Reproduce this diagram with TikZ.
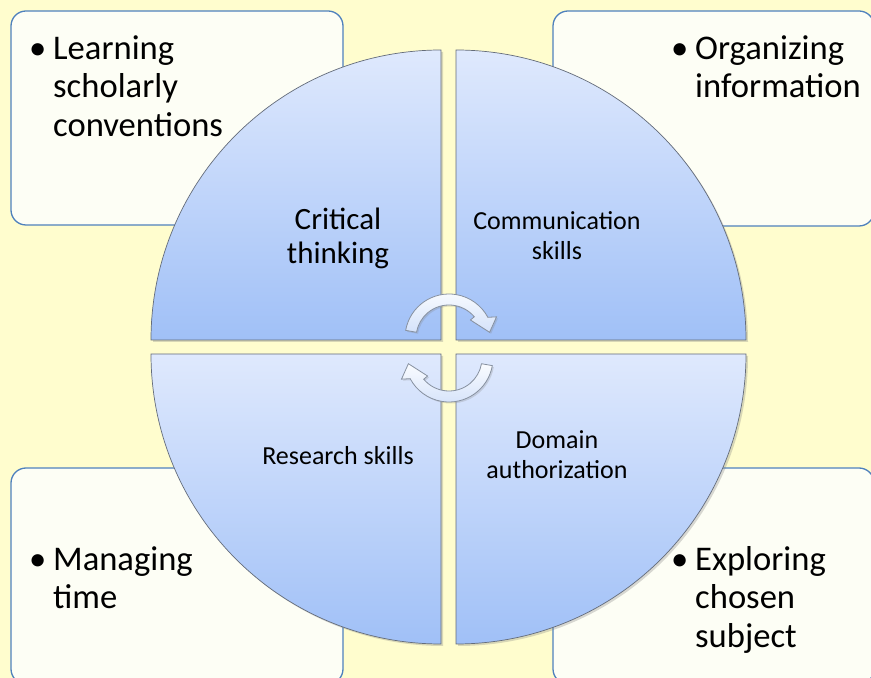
\documentclass[tikz,border=0pt]{standalone}
\usepackage{fontspec}
\setmainfont{Carlito}
\usepackage{array}
\usetikzlibrary{shadows}

\definecolor{bgyellow}{RGB}{255,253,206}
\definecolor{cardfill}{RGB}{253,254,245}
\definecolor{cardline}{RGB}{79,129,189}
\definecolor{quadtop}{RGB}{223,233,253}
\definecolor{quadbot}{RGB}{160,192,247}
\definecolor{quadline}{RGB}{100,108,122}
\definecolor{arrline}{RGB}{135,145,160}
\definecolor{arrtop}{RGB}{250,252,255}
\definecolor{arrbot}{RGB}{212,226,250}

\begin{document}
\begin{tikzpicture}[
    x=1pt, y=1pt,
    card/.style={draw=cardline, line width=1.3pt, fill=cardfill,
                 rounded corners=15pt, inner sep=0pt},
    pts/.style={font=\fontsize{34.6}{38.5}\selectfont, inner sep=0pt,
                anchor=north west},
    quad/.style={draw=quadline, line width=0.7pt,
                 top color=quadtop, bottom color=quadbot,
                 drop shadow={shadow xshift=2pt, shadow yshift=-2pt, opacity=0.3}},
    big/.style={font=\fontsize{31}{34}\selectfont, align=center, inner sep=0pt},
    small/.style={font=\fontsize{26}{30}\selectfont, align=center, inner sep=0pt},
    turn/.style={draw=arrline, line width=0.8pt,
                 top color=arrtop, bottom color=arrbot,
                 drop shadow={shadow xshift=1.5pt, shadow yshift=-1.5pt, opacity=0.25}},
  ]

  \useasboundingbox (0,0) rectangle (871,678);
  \fill[bgyellow] (0,0) rectangle (871,678);

  %% ---- corner cards ------------------------------------------------
  \node[card, minimum width=332pt, minimum height=214pt] (tlCard) at (177,560)   {};
  \node[card, minimum width=321pt, minimum height=215pt] (trCard) at (713.5,559.5) {};
  \node[card, minimum width=332pt, minimum height=216pt] (blCard) at (177,102)   {};
  \node[card, minimum width=321pt, minimum height=216pt] (brCard) at (713.5,102) {};

  \node[pts] (tlText) at (29,646)
  {\begin{tabular}{@{}p{24pt}@{}l@{}}\textbullet & Learning\\ & scholarly\\ & conventions\end{tabular}};
  \node[pts] (trText) at (671,646)
  {\begin{tabular}{@{}p{24pt}@{}l@{}}\textbullet & Organizing\\ & information\end{tabular}};
  \node[pts] (blText) at (29,135)
  {\begin{tabular}{@{}p{24pt}@{}l@{}}\textbullet & Managing\\ & time\end{tabular}};
  \node[pts] (brText) at (671,135)
  {\begin{tabular}{@{}p{24pt}@{}l@{}}\textbullet & Exploring\\ & chosen\\ & subject\end{tabular}};

  %% ---- four quadrants of the circle ----------------------------------
  \path[quad] (441,338) -- (151,338) arc[start angle=180, end angle=90,  radius=290] -- cycle;
  \path[quad] (456,338) -- (456,628) arc[start angle=90,  end angle=0,   radius=290] -- cycle;
  \path[quad] (441,324) -- (441,34)  arc[start angle=270, end angle=180, radius=290] -- cycle;
  \path[quad] (456,324) -- (746,324) arc[start angle=0,   end angle=-90, radius=290] -- cycle;

  \node[big]   (crit) at (338,439.6) {Critical\\thinking};
  \node[small] (comm) at (557,442)   {Communication\\skills};
  \node[small, anchor=base] (res) at (338,213) {Research skills};
  \node[small] (dom)  at (557,223.5) {Domain\\authorization};

  %% ---- circular arrows in the middle ----------------------------------
  \foreach \cy/\rot in {340/0, 320/180} {
    \begin{scope}[shift={(449,\cy)}, rotate=\rot]
      \path[turn] (170:44) arc[start angle=170, end angle=28, radius=44]
        -- (24:52) -- (8:41) -- (40:28) -- (40:33)
        arc[start angle=40, end angle=170, radius=33] -- cycle;
    \end{scope}
  }

\end{tikzpicture}
\end{document}
